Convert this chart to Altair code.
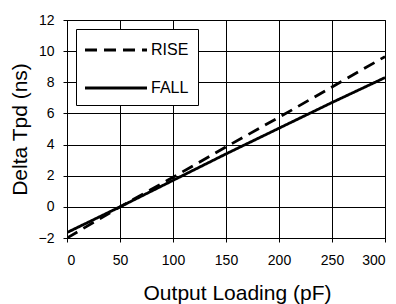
import altair as alt
import pandas as pd

loading = [0, 50, 100, 150, 200, 250, 300]
rise = [-2.0, 0.0, 1.9, 3.85, 5.75, 7.7, 9.65]
fall = [-1.65, 0.0, 1.7, 3.4, 5.05, 6.7, 8.3]
series = ["RISE", "FALL"]
x_ticks = [0, 50, 100, 150, 200, 250, 300]
y_ticks = [-2, 0, 2, 4, 6, 8, 10, 12]

rows = []
for name, vals in zip(series, [rise, fall]):
    for x, y in zip(loading, vals):
        rows.append({"load": x, "tpd": y, "edge": name})
df = pd.DataFrame(rows)

FONT = "Liberation Sans"

chart = alt.Chart(df).mark_line(color="black", strokeWidth=2.8, clip=True).encode(
    x=alt.X("load:Q", scale=alt.Scale(domain=[0, 300], nice=False),
            axis=alt.Axis(values=x_ticks, title="Output Loading (pF)", grid=True,
                          gridColor="black", gridOpacity=1, gridWidth=1,
                          tickColor="black", tickSize=4, domainColor="black",
                          labelFontSize=14, labelPadding=11, labelColor="black",
                          labelFont=FONT, titleFont=FONT, titleFontSize=21,
                          titleFontWeight="normal", titleColor="black",
                          titleX=170, titleY=61, titleBaseline="alphabetic")),
    y=alt.Y("tpd:Q", scale=alt.Scale(domain=[-2, 12], nice=False),
            axis=alt.Axis(values=y_ticks, title="Delta Tpd (ns)", grid=True,
                          gridColor="black", gridOpacity=1, gridWidth=1,
                          tickColor="black", tickSize=4, domainColor="black",
                          labelFontSize=14, labelPadding=9, labelColor="black",
                          labelFont=FONT, titleFont=FONT, titleFontSize=21,
                          titleFontWeight="normal", titleColor="black",
                          titleX=-41, titleY=109, titleBaseline="alphabetic")),
    strokeDash=alt.StrokeDash("edge:N",
        scale=alt.Scale(domain=series, range=[[12, 7], [1, 0]]),
        legend=alt.Legend(title=None, orient="none", legendX=9, legendY=9,
                          fillColor="white", strokeColor="black",
                          padding=9, rowPadding=18,
                          symbolType="M-3,0H3", symbolSize=427,
                          symbolOffset=19,
                          symbolStrokeColor="black", symbolStrokeWidth=2.8,
                          symbolFillColor="transparent",
                          labelFontSize=16, labelFont=FONT, labelColor="black",
                          labelOffset=23)),
).properties(
    width=318, height=218,
    autosize=alt.AutoSizeParams(type="none"),
    padding={"left": 59, "top": 12, "right": 3, "bottom": 66},
).configure_view(stroke="black", strokeWidth=1)

chart.save("out.html", embed_options={"renderer": "svg", "actions": False})
